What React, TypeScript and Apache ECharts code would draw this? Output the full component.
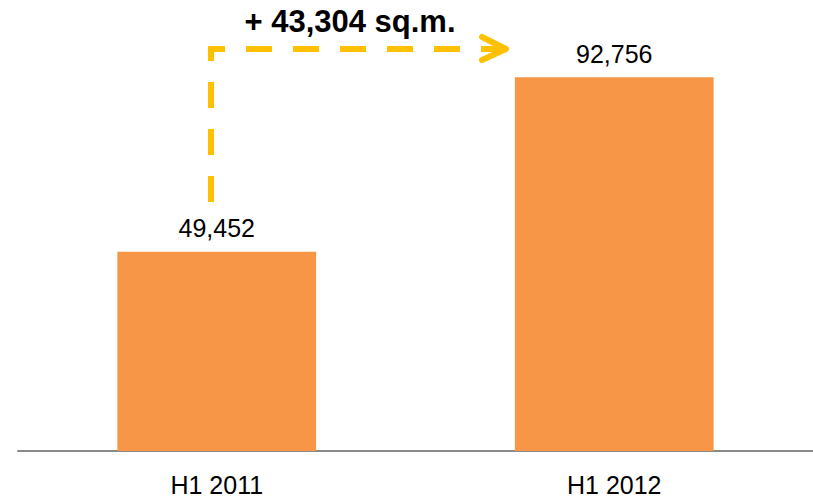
import React, { useEffect, useRef } from "react";
import * as echarts from "echarts";

const categories = ["H1 2011", "H1 2012"];
const values = [49452, 92756];
const yMax = 100000;

const fmt = (v: number) => v.toLocaleString("en-US");

export default function App() {
  const ref = useRef<HTMLDivElement>(null);
  useEffect(() => {
    if (!ref.current) return;
    const chart = echarts.init(ref.current, null, { renderer: "svg" });
    const diff = values[1] - values[0];
    const gold = "#FFC000";
    chart.setOption({
      animation: false,
      textStyle: { fontFamily: "Liberation Sans, Arial, sans-serif" },
      grid: { left: 18, right: 0, top: 48, bottom: 51 },
      xAxis: {
        type: "category",
        data: categories,
        axisLine: { lineStyle: { color: "#898989", width: 2 } },
        axisTick: { show: false },
        axisLabel: { color: "#000", fontSize: 25, margin: 21, fontFamily: "Liberation Sans, Arial, sans-serif" },
      },
      yAxis: { type: "value", min: 0, max: yMax, show: false, splitLine: { show: false } },
      series: [
        {
          type: "bar",
          data: values,
          barWidth: "50%",
          itemStyle: { color: "#F79646" },
          label: {
            show: true,
            position: "top",
            distance: 11,
            color: "#000",
            fontSize: 25,
            fontFamily: "Liberation Sans, Arial, sans-serif",
            formatter: (p: any) => fmt(p.value),
          },
        },
      ],
      graphic: [
        {
          type: "polyline",
          shape: { points: [[211, 202], [211, 49], [506, 49]] },
          style: { stroke: gold, lineWidth: 6, fill: null, lineDash: [26, 21], lineJoin: "miter", lineCap: "butt" },
        },
        {
          type: "polyline",
          shape: { points: [[482, 37], [506, 49], [482, 60]] },
          style: { stroke: gold, lineWidth: 6, fill: null, lineJoin: "round", lineCap: "round" },
        },
        {
          type: "text",
          x: 350,
          y: 21,
          style: {
            text: "+ " + fmt(diff) + " sq.m.",
            fontSize: 31,
            fontWeight: "bold",
            fontFamily: "Liberation Sans, Arial, sans-serif",
            fill: "#000",
            align: "center",
            verticalAlign: "middle",
          },
        },
      ],
    });
    return () => chart.dispose();
  }, []);
  return <div ref={ref} style={{ width: 813, height: 502, position: "absolute", left: 0, top: 0 }} />;
}
